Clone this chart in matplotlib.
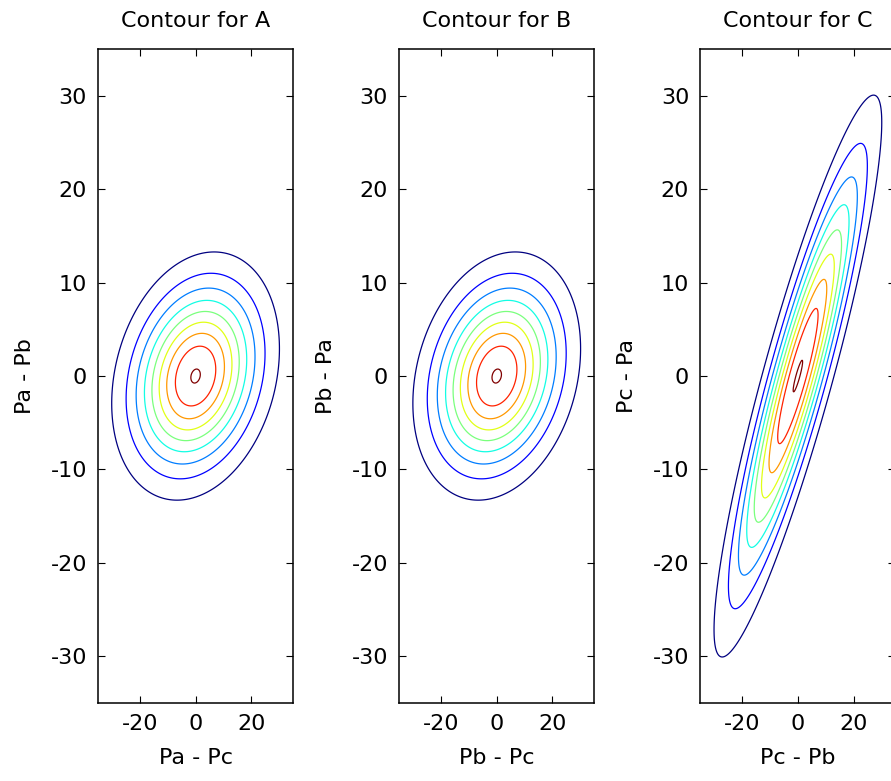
import numpy as np
import matplotlib.pyplot as plt

# variances of the three independent prices
var_a = 20.0
var_b = 20.0
var_c = 185.0

# contour levels as fractions of the peak density
level_frac = [0.11, 0.22, 0.33, 0.44, 0.55, 0.66, 0.77, 0.88, 0.993]

titles = ['Contour for A', 'Contour for B', 'Contour for C']
xlabels = ['Pa - Pc', 'Pb - Pc', 'Pc - Pb']
ylabels = ['Pa - Pb', 'Pb - Pa', 'Pc - Pa']
xticks = [-20, 0, 20]
yticks = [-30, -20, -10, 0, 10, 20, 30]

# (var x, var y, cov) for each panel: x = Pi - Pk, y = Pi - Pj
panels = [
    (var_a + var_c, var_a + var_b, var_a),
    (var_b + var_c, var_b + var_a, var_b),
    (var_c + var_b, var_c + var_a, var_c),
]

plt.rcParams['font.family'] = 'DejaVu Sans'
plt.rcParams['font.size'] = 16
plt.rcParams['axes.unicode_minus'] = False

fig = plt.figure(figsize=(8.91, 7.81), dpi=100)
lefts = [0.110, 0.448, 0.786]

g = np.linspace(-35, 35, 561)
X, Y = np.meshgrid(g, g)

for i, (vx, vy, cxy) in enumerate(panels):
    ax = fig.add_axes([lefts[i], 0.100, 0.219, 0.837])
    det = vx * vy - cxy ** 2
    q = (vy * X ** 2 - 2 * cxy * X * Y + vx * Y ** 2) / det
    Z = np.exp(-0.5 * q)
    ax.contour(X, Y, Z, levels=level_frac, cmap='jet', linewidths=0.9)
    ax.set_xlim(-35, 35)
    ax.set_ylim(-35, 35)
    ax.set_xticks(xticks)
    ax.set_yticks(yticks)
    ax.tick_params(direction='in', top=True, right=True, length=5, width=0.8,
                   pad=8)
    for s in ax.spines.values():
        s.set_linewidth(1.1)
    ax.set_title(titles[i], fontsize=16, pad=16)
    ax.set_xlabel(xlabels[i], fontsize=16, labelpad=10)
    ax.set_ylabel(ylabels[i], fontsize=16, labelpad=11)

fig.savefig('out.png', dpi=100)
